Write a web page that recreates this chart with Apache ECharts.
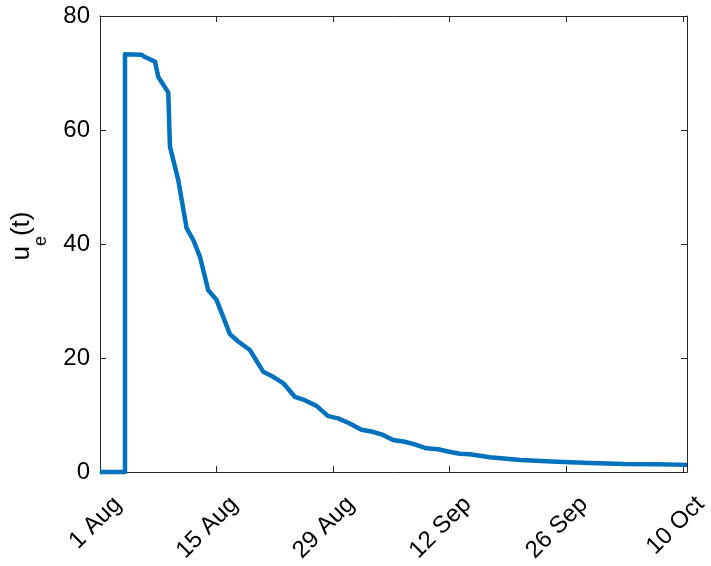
<!DOCTYPE html>
<html>
<head>
<meta charset="utf-8">
<script src="https://cdn.jsdelivr.net/npm/echarts@6/dist/echarts.min.js"></script>
<style>
  html, body { margin: 0; background: #fff; }
  #chart { width: 711px; height: 566px; }
</style>
</head>
<body>
<div id="chart"></div>
<script>
// days since 1 Aug
const tickDays = [0, 14, 28, 42, 56, 70]
const tickLabels = ['1 Aug', '15 Aug', '29 Aug', '12 Sep', '26 Sep', '10 Oct']

const days = [0, 3, 3, 5, 5.4, 6.6, 7, 8.2, 8.4, 9.4,
  10.4, 11.2, 12, 13, 14, 15.6, 16.6, 18, 19.6, 20.8,
  22, 23.4, 24.6, 26, 27.4, 28.6, 30, 31.4, 32.6, 34,
  35.2, 36.6, 37.8, 39.2, 40.6, 41.8, 43.2, 44.4, 46.8, 50.5,
  54.9, 58.9, 62.9, 66.9, 70.5]
const ue = [0, 0, 73.3, 73.2, 72.8, 72.0, 69.3, 66.6, 57.1, 51.2,
  42.8, 40.7, 37.8, 31.9, 30.2, 24.2, 22.9, 21.4, 17.6, 16.7,
  15.6, 13.2, 12.6, 11.6, 9.8, 9.4, 8.5, 7.4, 7.1, 6.5,
  5.6, 5.3, 4.85, 4.15, 4.0, 3.6, 3.2, 3.1, 2.6, 2.1,
  1.8, 1.6, 1.4, 1.35, 1.25]

const font = "'Liberation Sans', Arial, Helvetica, sans-serif"
const axisColor = '#262626'

const chart = echarts.init(document.getElementById('chart'))

function boxAxis(extra) {
  return Object.assign({
    type: 'value',
    axisLine: { show: true, onZero: false, lineStyle: { color: axisColor, width: 1 } },
    axisTick: { show: true, inside: true, length: 6, lineStyle: { color: axisColor, width: 1 } },
    splitLine: { show: false },
  }, extra)
}

chart.setOption({
  animation: false,
  textStyle: { fontFamily: font },
  grid: { left: 100, right: 24, top: 16, bottom: 94, outerBoundsMode: 'none', containLabel: false },
  xAxis: [
    boxAxis({
      position: 'bottom',
      min: 0,
      max: 70.5,
      interval: 14,
      axisLabel: {
        rotate: 45,
        margin: 11,
        verticalAlign: 'top',
        lineHeight: 50,
        fontSize: 24,
        fontFamily: font,
        color: '#000',
        formatter: (v) => {
          const i = tickDays.indexOf(v)
          return i >= 0 ? tickLabels[i] : ''
        },
      },
    }),
    boxAxis({
      position: 'top',
      min: 0,
      max: 70.5,
      interval: 14,
      axisLabel: { show: false },
    }),
  ],
  yAxis: [
    boxAxis({
      position: 'left',
      min: 0,
      max: 80,
      interval: 20,
      name: '{b|u}{s|e}{b|(t)}',
      nameLocation: 'middle',
      nameRotate: 90,
      nameGap: 62,
      nameTextStyle: {
        padding: [0, 0, 0, 16],
        rich: {
          b: { fontSize: 26, fontFamily: font, color: '#000', lineHeight: 29, verticalAlign: 'top' },
          s: { fontSize: 18, fontFamily: font, color: '#000', lineHeight: 21, verticalAlign: 'top', padding: [23, 0, 0, 0] },
        },
      },
      axisLabel: { margin: 10, fontSize: 24, fontFamily: font, color: '#000' },
    }),
    boxAxis({
      position: 'right',
      min: 0,
      max: 80,
      interval: 20,
      axisLabel: { show: false },
    }),
  ],
  series: [
    {
      type: 'line',
      data: days.map((d, i) => [d, ue[i]]),
      symbol: 'none',
      clip: false,
      lineStyle: { color: '#0072BD', width: 4.5, join: 'round' },
    },
  ],
})
</script>
</body>
</html>
